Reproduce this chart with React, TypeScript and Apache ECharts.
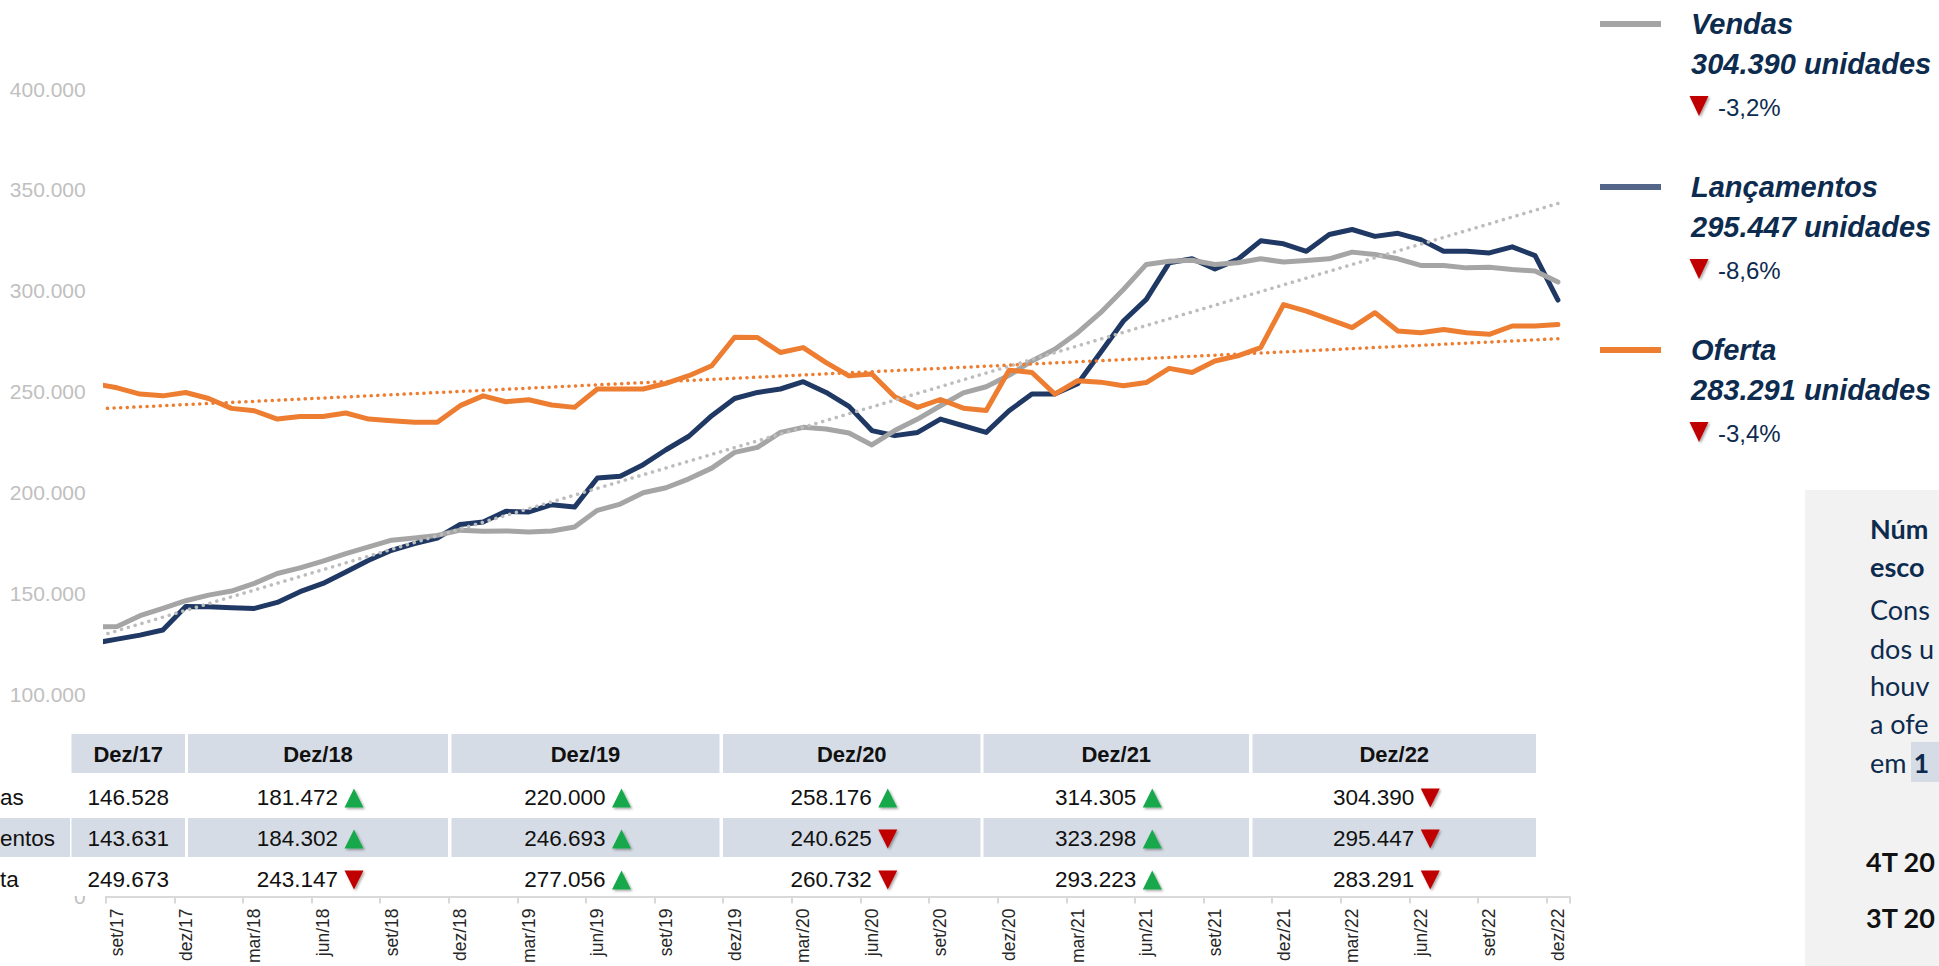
import React, { useEffect, useRef } from "react";
import * as echarts from "echarts";

const W = 1939;
const H = 966;
const ARIAL = "'Liberation Sans',Arial,sans-serif";
const BOX = "Lato,'Noto Sans',sans-serif";

// ---- categories (ago/17 is only partly visible, the axis starts at set/17) ----
const monthNames = ["jan", "fev", "mar", "abr", "mai", "jun", "jul", "ago", "set", "out", "nov", "dez"];
const categories: string[] = [];
for (let y = 17; y <= 22; y++) {
  for (let m = 0; m < 12; m++) {
    if (y === 17 && m < 7) continue;
    categories.push(`${monthNames[m]}/${y}`);
  }
}

// ---- series values, thousands of units (ago/17 ... dez/22) ----
const vendas = [
  133.5, 133.8, 139.1, 142.7, 146.528, 149.3, 151.3, 155.1, 160.0, 162.8, 166.1, 169.9, 173.2,
  176.5, 177.6, 178.9, 181.472, 180.9, 181.1, 180.6, 181.1, 183.0, 191.3, 194.4, 200.0,
  202.5, 206.9, 212.2, 220.0, 222.5, 229.9, 232.4, 231.6, 229.6, 223.7, 230.8, 236.5,
  243.1, 249.5, 252.5, 258.176, 265.3, 271.1, 279.3, 289.2, 300.7, 313.1, 314.7, 315.2,
  313.1, 313.9, 315.9, 314.305, 315.0, 315.9, 319.2, 318.0, 315.9, 312.6, 312.6, 311.4,
  311.7, 310.6, 309.8, 304.39,
];
const lancamentos = [
  125.5, 127.5, 129.5, 132.0, 143.631, 143.5, 143.1, 142.7, 145.7, 151.0, 155.1, 160.8, 166.6,
  171.5, 174.8, 177.6, 184.302, 185.5, 190.8, 190.5, 194.1, 192.9, 207.3, 208.2, 213.9,
  221.3, 228.0, 238.2, 246.693, 249.7, 251.4, 255.0, 249.7, 242.8, 230.8, 228.3, 229.9,
  236.5, 233.2, 229.9, 240.625, 248.9, 248.9, 254.0, 269.5, 285.1, 295.8, 313.9, 315.9,
  310.9, 315.6, 324.8, 323.298, 319.6, 327.9, 330.4, 327.0, 328.5, 325.4, 319.6, 319.6,
  318.8, 321.8, 317.5, 295.447,
];
const oferta = [
  254.0, 252.0, 248.9, 248.0, 249.673, 246.7, 241.8, 240.6, 236.5, 237.8, 237.8, 239.5, 236.5,
  235.7, 234.9, 234.9, 243.147, 248.0, 245.1, 246.1, 243.5, 242.3, 251.4, 251.4, 251.4,
  254.2, 258.0, 262.9, 277.056, 276.9, 269.5, 271.9, 264.5, 257.9, 258.8, 247.6, 242.3,
  246.2, 241.9, 240.8, 260.732, 259.6, 248.9, 255.5, 254.8, 253.0, 254.6, 261.6, 259.6,
  265.3, 267.8, 271.9, 293.223, 290.0, 285.9, 281.8, 289.2, 280.1, 279.3, 280.9, 279.3,
  278.5, 282.6, 282.6, 283.291,
];
// linear trend lines: value at first and last category
const vendasTrendEnds = [128.3, 343.3];
const ofertaTrendEnds = [241.5, 276.3];

// ---- y tick labels ----
const yTickLabels = ["0", "50.000", "100.000", "150.000", "200.000", "250.000", "300.000", "350.000", "400.000"];

// ---- table ----
const tableHeaders = ["Dez/17", "Dez/18", "Dez/19", "Dez/20", "Dez/21", "Dez/22"];
const rowNameFragments = ["as", "entos", "ta"]; // Vendas / Lançamentos / Oferta, cut by the left edge
const tableVendas = ["146.528", "181.472", "220.000", "258.176", "314.305", "304.390"];
const tableLanc = ["143.631", "184.302", "246.693", "240.625", "323.298", "295.447"];
const tableOferta = ["249.673", "243.147", "277.056", "260.732", "293.223", "283.291"];
const dirVendas = ["", "up", "up", "up", "up", "down"];
const dirLanc = ["", "up", "up", "down", "up", "down"];
const dirOferta = ["", "down", "up", "down", "up", "down"];

// ---- legend ----
const legendNames = ["Vendas", "Lançamentos", "Oferta"];
const legendTotals = ["304.390 unidades", "295.447 unidades", "283.291 unidades"];
const legendChanges = ["-3,2%", "-8,6%", "-3,4%"];

// ---- side box (cut by the right edge) ----
const boxTitle = ["Núm", "esco"];
const boxLines = ["Cons", "dos u", "houv", "a ofe"];
const boxQuarters = ["4T 20", "3T 20"];

const NAVY = "#1f3864";
const GRAY = "#a5a5a5";
const ORANGE = "#ed7d31";
const TEXTNAVY = "#0d2b4e";
const HEADBG = "#d6dce5";
const RED = "#c00000";
const GREEN = "#17a84b";

function trendData(ends: number[]) {
  return categories.map((_, i) => (i === 0 ? ends[0] : i === categories.length - 1 ? ends[1] : null));
}

function txt(x: number, y: number, text: string, s: any, z = 100) {
  return {
    type: "text",
    x,
    y,
    z,
    silent: true,
    style: {
      text,
      align: s.align || "left",
      textAlign: s.align || "left",
      verticalAlign: "middle",
      textVerticalAlign: "middle",
      ...s,
    },
  };
}

function tri(cx: number, cy: number, up: boolean, w: number, h: number) {
  const pts = up
    ? [[cx - w / 2, cy + h / 2], [cx + w / 2, cy + h / 2], [cx, cy - h / 2]]
    : [[cx - w / 2, cy - h / 2], [cx + w / 2, cy - h / 2], [cx, cy + h / 2]];
  return {
    type: "polygon",
    z: 102,
    silent: true,
    shape: { points: pts },
    style: {
      fill: up ? GREEN : RED,
      shadowBlur: 2,
      shadowColor: "rgba(0,0,0,0.35)",
      shadowOffsetX: 1.5,
      shadowOffsetY: 1.5,
    },
  };
}

function buildGraphics() {
  const els: any[] = [];
  // table
  const cols = [
    [71.5, 185],
    [188, 448],
    [451.5, 719.5],
    [723, 980.5],
    [983.5, 1249],
    [1252.5, 1536],
  ];
  const headTop = 734;
  const headH = 39;
  const rowsY = [797, 838, 879];
  els.push({ type: "rect", z: 90, silent: true, shape: { x: -20, y: 728, width: 1557, height: 168 }, style: { fill: "#ffffff" } });
  cols.forEach(([a, b]) => {
    els.push({ type: "rect", z: 91, silent: true, shape: { x: a, y: headTop, width: b - a, height: headH }, style: { fill: HEADBG } });
    els.push({ type: "rect", z: 91, silent: true, shape: { x: a, y: 818, width: b - a, height: 39 }, style: { fill: HEADBG } });
  });
  els.push({ type: "rect", z: 91, silent: true, shape: { x: -20, y: 818, width: 90, height: 39 }, style: { fill: HEADBG } });
  tableHeaders.forEach((h, i) => {
    const cx = (cols[i][0] + cols[i][1]) / 2;
    els.push(txt(cx, headTop + headH / 2 + 1, h, { align: "center", fill: "#111", fontSize: 22, fontWeight: "bold", fontFamily: ARIAL }));
  });
  rowNameFragments.forEach((n, r) => {
    els.push(txt(0, rowsY[r], n, { align: "left", fill: "#111", fontSize: 22.5, fontFamily: ARIAL }));
  });
  const vals = [tableVendas, tableLanc, tableOferta];
  const dirs = [dirVendas, dirLanc, dirOferta];
  vals.forEach((row, r) => {
    row.forEach((v, i) => {
      const cx = (cols[i][0] + cols[i][1]) / 2;
      const d = dirs[r][i];
      if (!d) {
        els.push(txt(cx, rowsY[r], v, { align: "center", fill: "#111", fontSize: 22.5, fontFamily: ARIAL }));
      } else {
        els.push(txt(cx + 20, rowsY[r], v, { align: "right", fill: "#111", fontSize: 22.5, fontFamily: ARIAL }));
        els.push(tri(cx + 36, rowsY[r] + 1, d === "up", 19, 19));
      }
    });
  });

  // legend
  const swColors = [GRAY, "#54658a", ORANGE];
  const baseY = [24, 187, 350];
  legendNames.forEach((n, k) => {
    const y0 = baseY[k];
    els.push({ type: "line", z: 100, silent: true, shape: { x1: 1600, y1: y0, x2: 1661, y2: y0 }, style: { stroke: swColors[k], lineWidth: 6 } });
    els.push(txt(1691, y0, n, { fill: TEXTNAVY, fontSize: 29, fontWeight: "bold", fontStyle: "italic", fontFamily: ARIAL }));
    els.push(txt(1691, y0 + 40, legendTotals[k], { fill: TEXTNAVY, fontSize: 29, fontWeight: "bold", fontStyle: "italic", fontFamily: ARIAL }));
    els.push(tri(1699, y0 + 82, false, 19, 20));
    els.push(txt(1718, y0 + 83, legendChanges[k], { fill: TEXTNAVY, fontSize: 24, fontFamily: ARIAL }));
  });

  // side box
  const bx = 1870;
  const fs = 27;
  els.push({ type: "rect", z: 95, silent: true, shape: { x: 1805, y: 490, width: 150, height: 490 }, style: { fill: "#f2f2f2" } });
  const titleY = [528, 566];
  boxTitle.forEach((t, i) => {
    els.push(txt(bx, titleY[i], t, { fill: TEXTNAVY, fontSize: fs, fontWeight: "bold", fontFamily: BOX }));
  });
  const bodyY = [609, 648, 685, 723];
  boxLines.forEach((l, i) => {
    els.push(txt(bx, bodyY[i], l, { fill: TEXTNAVY, fontSize: fs, fontFamily: BOX }));
  });
  els.push({ type: "rect", z: 98, silent: true, shape: { x: 1911, y: 742, width: 36, height: 40 }, style: { fill: HEADBG } });
  els.push(
    txt(
      bx,
      762,
      "{r|em }{b|1}",
      {
        fill: TEXTNAVY,
        fontSize: fs,
        fontFamily: BOX,
        rich: { r: { fill: TEXTNAVY, fontSize: fs, fontFamily: BOX }, b: { fill: TEXTNAVY, fontSize: fs, fontFamily: BOX, fontWeight: "bold" } },
      },
      101
    )
  );
  const qY = [861, 917];
  boxQuarters.forEach((q, i) => {
    els.push(txt(1866, qY[i], q, { fill: "#111", fontSize: fs, fontWeight: "bold", fontFamily: BOX }));
  });
  return els;
}

function buildOption(): any {
  const lineBase = { type: "line", showSymbol: false, silent: true, clip: true, xAxisIndex: 0, yAxisIndex: 0 };
  const every3 = (index: number) => index % 3 === 1;
  return {
    animation: false,
    backgroundColor: "#ffffff",
    grid: { left: 105.7, right: W - 1569.4, top: 89, bottom: H - 899, containLabel: false },
    xAxis: {
      type: "category",
      data: categories,
      boundaryGap: true,
      min: 1,
      max: categories.length - 1,
      axisLine: { show: true, lineStyle: { color: "#d9d9d9", width: 2 } },
      axisTick: { show: true, interval: every3, length: 7, lineStyle: { color: "#d9d9d9", width: 2 } },
      axisLabel: { interval: every3, rotate: 90, margin: 12, color: "#262626", fontSize: 17.5, fontFamily: ARIAL },
      splitLine: { show: false },
    },
    yAxis: {
      type: "value",
      min: 0,
      max: 400,
      interval: 50,
      axisLine: { show: false },
      axisTick: { show: false },
      splitLine: { show: false },
      axisLabel: {
        margin: 20,
        color: "#c0c0c0",
        fontSize: 21,
        fontFamily: ARIAL,
        formatter: (v: number) => yTickLabels[Math.round(v / 50)] ?? "",
      },
    },
    series: [
      { ...lineBase, name: "Lançamentos", data: lancamentos, z: 3, lineStyle: { color: NAVY, width: 5, join: "round", cap: "round" } },
      { ...lineBase, name: "Vendas", data: vendas, z: 4, lineStyle: { color: GRAY, width: 5, join: "round", cap: "round" } },
      { ...lineBase, name: "Oferta", data: oferta, z: 5, lineStyle: { color: ORANGE, width: 5, join: "round", cap: "round" } },
      {
        ...lineBase,
        name: "Tendência Vendas",
        data: trendData(vendasTrendEnds),
        connectNulls: true,
        z: 6,
        lineStyle: { color: "#bdbdbd", width: 3.5, type: [0.1, 7], cap: "round" },
      },
      {
        ...lineBase,
        name: "Tendência Oferta",
        data: trendData(ofertaTrendEnds),
        connectNulls: true,
        z: 6,
        lineStyle: { color: ORANGE, width: 3.5, type: [0.1, 6.5], cap: "round" },
      },
    ],
    graphic: { elements: buildGraphics() },
  };
}

export default function App() {
  const ref = useRef<HTMLDivElement>(null);
  useEffect(() => {
    document.body.style.margin = "0";
    const chart = echarts.init(ref.current as HTMLDivElement, null, { renderer: "svg" });
    chart.setOption(buildOption());
    return () => chart.dispose();
  }, []);
  return <div ref={ref} style={{ width: W, height: H, background: "#ffffff", overflow: "hidden" }} />;
}
